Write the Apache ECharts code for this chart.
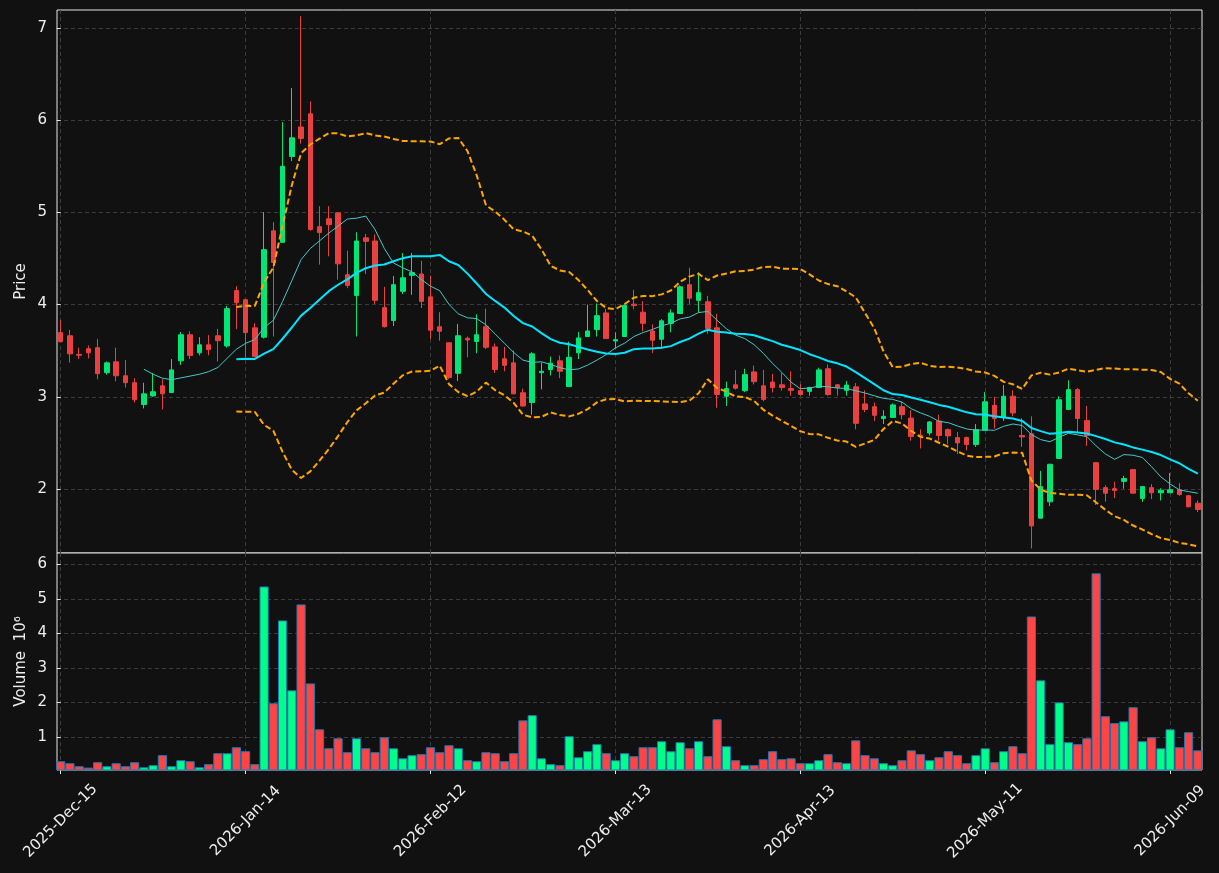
<!DOCTYPE html>
<html>
<head>
<meta charset="utf-8">
<title>Price / Volume</title>
<script src="https://cdn.jsdelivr.net/npm/echarts@6/dist/echarts.min.js"></script>
<style>
  html, body { margin: 0; padding: 0; background: #111111; }
  #main { width: 1219px; height: 873px; }
</style>
</head>
<body>
<div id="main"></div>
<script>
// trading days (category labels)
const dates = [
  '2025-Dec-15','2025-Dec-16','2025-Dec-17','2025-Dec-18','2025-Dec-19','2025-Dec-22','2025-Dec-23','2025-Dec-24','2025-Dec-26','2025-Dec-29','2025-Dec-30','2025-Dec-31',
  '2026-Jan-02','2026-Jan-05','2026-Jan-06','2026-Jan-07','2026-Jan-08','2026-Jan-09','2026-Jan-12','2026-Jan-13','2026-Jan-14','2026-Jan-15','2026-Jan-16',
  '2026-Jan-20','2026-Jan-21','2026-Jan-22','2026-Jan-23','2026-Jan-26','2026-Jan-27','2026-Jan-28','2026-Jan-29','2026-Jan-30',
  '2026-Feb-02','2026-Feb-03','2026-Feb-04','2026-Feb-05','2026-Feb-06','2026-Feb-09','2026-Feb-10','2026-Feb-11','2026-Feb-12','2026-Feb-13',
  '2026-Feb-17','2026-Feb-18','2026-Feb-19','2026-Feb-20','2026-Feb-23','2026-Feb-24','2026-Feb-25','2026-Feb-26','2026-Feb-27',
  '2026-Mar-02','2026-Mar-03','2026-Mar-04','2026-Mar-05','2026-Mar-06','2026-Mar-09','2026-Mar-10','2026-Mar-11','2026-Mar-12','2026-Mar-13',
  '2026-Mar-16','2026-Mar-17','2026-Mar-18','2026-Mar-19','2026-Mar-20','2026-Mar-23','2026-Mar-24','2026-Mar-25','2026-Mar-26','2026-Mar-27','2026-Mar-30','2026-Mar-31',
  '2026-Apr-01','2026-Apr-02','2026-Apr-06','2026-Apr-07','2026-Apr-08','2026-Apr-09','2026-Apr-10','2026-Apr-13','2026-Apr-14','2026-Apr-15','2026-Apr-16','2026-Apr-17',
  '2026-Apr-20','2026-Apr-21','2026-Apr-22','2026-Apr-23','2026-Apr-24','2026-Apr-27','2026-Apr-28','2026-Apr-29','2026-Apr-30',
  '2026-May-01','2026-May-04','2026-May-05','2026-May-06','2026-May-07','2026-May-08','2026-May-11','2026-May-12','2026-May-13','2026-May-14','2026-May-15',
  '2026-May-18','2026-May-19','2026-May-20','2026-May-21','2026-May-22','2026-May-26','2026-May-27','2026-May-28','2026-May-29',
  '2026-Jun-01','2026-Jun-02','2026-Jun-03','2026-Jun-04','2026-Jun-05','2026-Jun-08','2026-Jun-09','2026-Jun-10','2026-Jun-11','2026-Jun-12'
];

const opens = [
  3.696, 3.662, 3.46, 3.522, 3.533, 3.262, 3.379, 3.228, 3.153, 2.916,
  3.01, 3.119, 3.047, 3.39, 3.673, 3.477, 3.564, 3.662, 3.552, 4.152,
  4.053, 3.748, 3.647, 4.80, 4.675, 5.606, 5.926, 6.069, 4.845, 4.931,
  4.995, 4.325, 4.099, 4.724, 4.69, 3.967, 3.827, 4.144, 4.317, 4.332,
  4.084, 3.76, 3.586, 3.255, 3.635, 3.601, 3.76, 3.541, 3.413, 3.368,
  3.044, 2.938, 3.262, 3.296, 3.39, 3.111, 3.477, 3.654, 3.729, 3.91,
  3.605, 3.654, 4.005, 3.918, 3.714, 3.624, 3.797, 3.903, 4.216, 4.046,
  4.031, 3.748, 3.006, 3.13, 3.066, 3.27, 3.119, 3.16, 3.13, 3.089,
  3.066, 3.059, 3.10, 3.304, 3.13, 3.07, 3.108, 2.923, 2.893, 2.765,
  2.776, 2.893, 2.769, 2.584, 2.607, 2.738, 2.644, 2.558, 2.558, 2.482,
  2.637, 2.908, 2.776, 3.006, 2.58, 2.599, 1.684, 1.861, 2.332, 2.863,
  3.078, 2.742, 2.286, 2.015, 2.004, 2.083, 2.211, 1.898, 2.015, 1.959,
  1.959, 1.992, 1.928, 1.846
];
const closes = [
  3.598, 3.466, 3.45, 3.477, 3.251, 3.368, 3.228, 3.153, 2.968, 3.032,
  3.055, 3.032, 3.292, 3.673, 3.447, 3.564, 3.511, 3.609, 3.956, 4.02,
  3.696, 3.436, 4.596, 4.457, 5.50, 5.809, 5.802, 4.815, 4.781, 4.867,
  4.442, 4.208, 4.69, 4.686, 4.046, 3.76, 4.216, 4.291, 4.347, 4.035,
  3.722, 3.711, 3.21, 3.662, 3.616, 3.673, 3.537, 3.296, 3.341, 3.032,
  2.90, 3.466, 3.277, 3.364, 3.277, 3.428, 3.639, 3.714, 3.88, 3.631,
  3.62, 3.993, 3.99, 3.797, 3.613, 3.824, 3.91, 4.193, 4.069, 4.129,
  3.741, 3.025, 3.089, 3.093, 3.24, 3.164, 2.972, 3.10, 3.10, 3.07,
  3.025, 3.10, 3.292, 3.025, 3.10, 3.127, 2.712, 2.863, 2.799, 2.788,
  2.912, 2.806, 2.569, 2.578, 2.727, 2.58, 2.576, 2.50, 2.482, 2.644,
  2.946, 2.765, 3.006, 2.825, 2.565, 1.60, 2.026, 2.268, 2.968, 3.078,
  2.765, 2.58, 1.996, 1.955, 1.985, 2.113, 1.955, 2.026, 1.959, 1.985,
  1.992, 1.94, 1.808, 1.778
];
const lows = [
  3.59, 3.372, 3.409, 3.417, 3.19, 3.24, 3.168, 3.10, 2.938, 2.874,
  3.0, 2.863, 3.04, 3.345, 3.409, 3.45, 3.45, 3.383, 3.533, 3.733,
  3.428, 3.43, 3.632, 3.654, 4.675, 5.557, 5.745, 4.80, 4.434, 4.524,
  4.272, 4.178, 3.654, 4.332, 4.008, 3.753, 3.767, 4.114, 4.106, 3.963,
  3.628, 3.609, 3.194, 3.172, 3.428, 3.473, 3.518, 3.258, 3.277, 3.03,
  2.893, 2.806, 3.081, 3.232, 3.202, 3.11, 3.409, 3.654, 3.654, 3.63,
  3.522, 3.654, 3.95, 3.711, 3.473, 3.522, 3.699, 3.9, 4.008, 3.918,
  3.684, 2.881, 2.90, 3.078, 3.051, 3.134, 2.95, 3.047, 3.066, 3.013,
  3.013, 3.013, 3.10, 3.013, 3.013, 3.013, 2.648, 2.833, 2.738, 2.705,
  2.775, 2.757, 2.524, 2.44, 2.58, 2.524, 2.486, 2.381, 2.418, 2.456,
  2.635, 2.656, 2.738, 2.788, 2.456, 1.356, 1.683, 1.815, 2.33, 2.86,
  2.618, 2.467, 1.827, 1.864, 1.902, 2.004, 1.951, 1.861, 1.89, 1.876,
  1.958, 1.928, 1.80, 1.751
];
const highs = [
  3.831, 3.726, 3.533, 3.556, 3.628, 3.383, 3.533, 3.398, 3.202, 3.153,
  3.258, 3.19, 3.409, 3.703, 3.71, 3.647, 3.669, 3.737, 3.986, 4.2,
  4.06, 3.80, 5.003, 4.894, 5.979, 6.348, 7.128, 6.205, 5.067, 5.067,
  5.0, 4.585, 4.785, 4.766, 4.762, 4.193, 4.31, 4.559, 4.559, 4.476,
  4.314, 3.918, 3.59, 3.79, 3.654, 3.895, 3.956, 3.579, 3.541, 3.503,
  3.089, 3.485, 3.372, 3.436, 3.447, 3.598, 3.703, 4.0, 4.012, 3.956,
  3.699, 4.0, 4.16, 4.038, 3.786, 3.842, 3.948, 4.208, 4.40, 4.351,
  4.095, 3.899, 3.164, 3.289, 3.304, 3.338, 3.292, 3.247, 3.258, 3.277,
  3.138, 3.108, 3.315, 3.353, 3.138, 3.172, 3.149, 3.07, 2.938, 2.855,
  2.927, 2.946, 2.855, 2.648, 2.738, 2.806, 2.656, 2.618, 2.569, 2.705,
  3.051, 3.002, 3.127, 3.07, 2.769, 2.788, 2.196, 2.275, 3.006, 3.179,
  3.096, 2.90, 2.29, 2.041, 2.079, 2.143, 2.215, 2.026, 2.053, 2.008,
  2.173, 2.064, 1.93, 1.876
];
// volume in millions
const volumes = [
  0.295, 0.237, 0.15, 0.11, 0.266, 0.15, 0.237, 0.15, 0.266, 0.12,
  0.18, 0.47, 0.15, 0.324, 0.295, 0.12, 0.21, 0.527, 0.527, 0.70,
  0.585, 0.21, 5.36, 1.975, 4.377, 2.35, 4.84, 2.55, 1.22, 0.67,
  0.96, 0.556, 0.96, 0.67, 0.556, 0.99, 0.67, 0.38, 0.47, 0.50,
  0.70, 0.556, 0.758, 0.67, 0.324, 0.295, 0.556, 0.527, 0.295, 0.527,
  1.48, 1.63, 0.38, 0.21, 0.18, 1.02, 0.41, 0.585, 0.79, 0.527,
  0.324, 0.527, 0.44, 0.70, 0.70, 0.875, 0.585, 0.846, 0.67, 0.875,
  0.44, 1.51, 0.73, 0.324, 0.18, 0.18, 0.353, 0.585, 0.353, 0.38,
  0.237, 0.237, 0.324, 0.50, 0.266, 0.237, 0.90, 0.47, 0.38, 0.237,
  0.18, 0.324, 0.61, 0.50, 0.324, 0.41, 0.585, 0.47, 0.237, 0.47,
  0.67, 0.266, 0.585, 0.73, 0.527, 4.49, 2.64, 0.79, 2.0, 0.846,
  0.79, 0.96, 5.74, 1.60, 1.40, 1.45, 1.86, 0.875, 0.99, 0.67,
  1.22, 0.70, 1.135, 0.61
];

const priceTicks = [2, 3, 4, 5, 6, 7];
const volumeTicks = [1, 2, 3, 4, 5, 6];
const dateTicks = [0, 20, 40, 60, 80, 100, 120];

const upColor = '#00e676';
const downColor = '#e8413f';
const volUp = '#00ff88';
const volDown = '#ff4444';
const gridColor = '#3c3c3c';
const textColor = '#eeeeee';
const font = 'DejaVu Sans';

// rolling mean / std of closes
function rolling(n, fn) {
  const out = [];
  for (let i = n - 1; i < closes.length; i++) {
    const w = closes.slice(i - n + 1, i + 1);
    out.push([i, fn(w)]);
  }
  return out;
}
const mean = w => w.reduce((a, b) => a + b, 0) / w.length;
const std = w => { const m = mean(w); return Math.sqrt(w.reduce((a, b) => a + (b - m) * (b - m), 0) / w.length); };

const ma10 = rolling(10, mean);
const ma20 = rolling(20, mean);
const bbUp = rolling(20, w => mean(w) + 2 * std(w));
const bbLow = rolling(20, w => mean(w) - 2 * std(w));

const candleData = dates.map((d, i) => [i, opens[i], closes[i], lows[i], highs[i]]);
const volumeData = volumes.map((v, i) => ({
  value: [i, v],
  itemStyle: { color: closes[i] >= opens[i] ? volUp : volDown }
}));

const chart = echarts.init(document.getElementById('main'));

const xCommon = {
  type: 'value',
  min: -0.4,
  max: 123.45,
  axisLine: { show: false },
  splitLine: { show: true, lineStyle: { color: gridColor, type: [4, 3], width: 1 } }
};

// axis titles as rotated text
function axisTitle(text, y) {
  return {
    type: 'text',
    x: 21,
    y: y,
    rotation: Math.PI / 2,
    style: { text: text, fill: textColor, font: '15px "DejaVu Sans"', align: 'center', verticalAlign: 'middle' }
  };
}

const option = {
  backgroundColor: '#111111',
  animation: false,
  textStyle: { fontFamily: font },
  graphic: [
    axisTitle('Price', 281.5),
    axisTitle('Volume  10\u2076', 661.5)
  ],
  grid: [
    { left: 57, top: 10, width: 1145, height: 543, show: true, borderColor: '#e6e6e6', borderWidth: 1, backgroundColor: '#111111' },
    { left: 57, top: 553, width: 1145, height: 217, show: true, borderColor: '#e6e6e6', borderWidth: 1, backgroundColor: '#111111' }
  ],
  xAxis: [
    Object.assign({}, xCommon, {
      gridIndex: 0,
      axisTick: { show: false, customValues: dateTicks },
      axisLabel: { show: false, customValues: dateTicks }
    }),
    Object.assign({}, xCommon, {
      gridIndex: 1,
      axisTick: { show: true, customValues: dateTicks, length: 4, lineStyle: { color: '#e6e6e6' } },
      axisLabel: {
        customValues: dateTicks,
        formatter: v => dates[v],
        rotate: 45,
        align: 'center',
        verticalAlign: 'middle',
        margin: 51,
        color: textColor,
        fontSize: 15,
        fontFamily: font
      }
    })
  ],
  yAxis: [
    {
      gridIndex: 0,
      type: 'value',
      min: 1.306,
      max: 7.195,
      axisLine: { show: false },
      axisTick: { show: true, customValues: priceTicks, length: 4, lineStyle: { color: '#e6e6e6' } },
      axisLabel: { customValues: priceTicks, color: textColor, fontSize: 15, fontFamily: font, margin: 10 },
      splitLine: { show: true, lineStyle: { color: gridColor, type: [4, 3], width: 1 } }
    },
    {
      gridIndex: 1,
      type: 'value',
      min: 0.04,
      max: 6.33,
      axisLine: { show: false },
      axisTick: { show: true, customValues: volumeTicks, length: 4, lineStyle: { color: '#e6e6e6' } },
      axisLabel: { customValues: volumeTicks, color: textColor, fontSize: 15, fontFamily: font, margin: 10 },
      splitLine: { show: true, lineStyle: { color: gridColor, type: [4, 3], width: 1 } }
    }
  ],
  series: [
    {
      name: 'Price',
      type: 'candlestick',
      xAxisIndex: 0,
      yAxisIndex: 0,
      barWidth: 5,
      data: candleData,
      itemStyle: {
        color: upColor,
        color0: downColor,
        borderColor: upColor,
        borderColor0: downColor,
        borderWidth: 1
      }
    },
    {
      name: 'MA10',
      type: 'line',
      xAxisIndex: 0,
      yAxisIndex: 0,
      data: ma10,
      showSymbol: false,
      lineStyle: { color: '#46c8c8', width: 1 },
      z: 3
    },
    {
      name: 'MA20',
      type: 'line',
      xAxisIndex: 0,
      yAxisIndex: 0,
      data: ma20,
      showSymbol: false,
      lineStyle: { color: '#00e5ff', width: 2 },
      z: 3
    },
    {
      name: 'BB upper',
      type: 'line',
      xAxisIndex: 0,
      yAxisIndex: 0,
      data: bbUp,
      showSymbol: false,
      lineStyle: { color: '#ffa500', width: 2, type: [6, 3] },
      z: 3
    },
    {
      name: 'BB lower',
      type: 'line',
      xAxisIndex: 0,
      yAxisIndex: 0,
      data: bbLow,
      showSymbol: false,
      lineStyle: { color: '#ffa500', width: 2, type: [6, 3] },
      z: 3
    },
    {
      name: 'Volume',
      type: 'bar',
      xAxisIndex: 1,
      yAxisIndex: 1,
      barWidth: 9.2,
      data: volumeData,
      itemStyle: { borderColor: '#1f77b4', borderWidth: 1 }
    }
  ]
};

chart.setOption(option);
</script>
</body>
</html>
